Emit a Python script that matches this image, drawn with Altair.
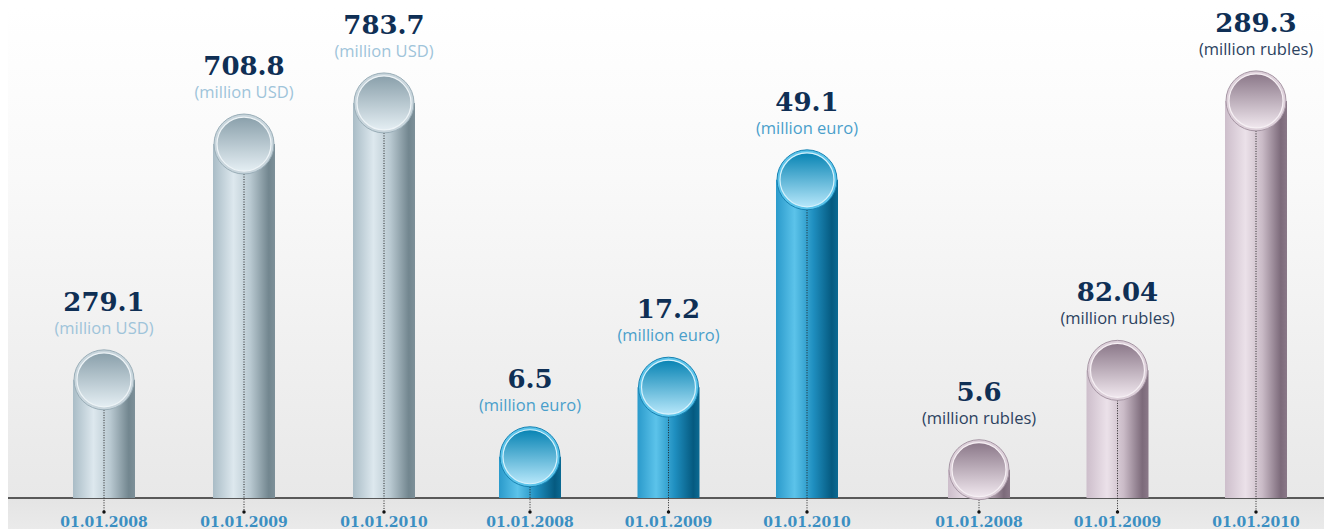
import altair as alt
import pandas as pd

# ---- data ----
dates = ["01.01.2008", "01.01.2009", "01.01.2010"]
usd_values = [279.1, 708.8, 783.7]
euro_values = [6.5, 17.2, 49.1]
rub_values = [5.6, 82.04, 289.3]
unit_labels = ["(million USD)", "(million euro)", "(million rubles)"]

W, H = 1316, 530
BASE = 490


def hgrad(stops):
    return alt.Gradient(gradient="linear", x1=0, x2=1, y1=0, y2=0,
                        stops=[alt.GradientStop(offset=o, color=c) for o, c in stops])


def vgrad(stops):
    return alt.Gradient(gradient="linear", x1=0, x2=0, y1=0, y2=1,
                        stops=[alt.GradientStop(offset=o, color=c) for o, c in stops])


styles = [
    dict(body=[(0, "#a9bcc6"), (0.33, "#dde8ee"), (0.6, "#b9c9d1"), (0.9, "#72868f"), (1, "#7d9099")],
         ring="#c8d5dc", ring_stroke="#9aaeb8",
         inner=[(0, "#8aa0ab"), (1, "#e4eef3")], inner_stroke="#eef4f7",
         unit_color="#9fc4da"),
    dict(body=[(0, "#2a9acb"), (0.3, "#5cc3ea"), (0.6, "#1f8fc0"), (0.9, "#055a80"), (1, "#0b6a93")],
         ring="#5cc4ea", ring_stroke="#1783b3",
         inner=[(0, "#0884b4"), (1, "#b6e7fa")], inner_stroke="#d7f2fc",
         unit_color="#4a9fcb"),
    dict(body=[(0, "#cdbecb"), (0.33, "#ebe1e9"), (0.6, "#cabbc7"), (0.9, "#7c6a7a"), (1, "#8a7888")],
         ring="#ddd0da", ring_stroke="#a696a4",
         inner=[(0, "#8b7889"), (1, "#f0e7ee")], inner_stroke="#f6f0f4",
         unit_color="#2c4260"),
]


def group_chart(i, values, x_range, y_domain, y_range):
    st = styles[i]
    df = pd.DataFrame({
        "date": dates,
        "value": values,
        "label": [str(v) for v in values],
        "unit": [unit_labels[i]] * len(values),
    })
    x = alt.X("date:N", axis=None, sort=dates,
              scale=alt.Scale(type="point", range=x_range, padding=0))
    y = alt.Y("value:Q", axis=None, stack=None,
              scale=alt.Scale(domain=y_domain, range=y_range, nice=False))
    base = alt.Chart(df).encode(x=x)
    body = base.mark_bar(size=62, color=hgrad(st["body"])).encode(y=y, y2=alt.value(BASE))
    dots = base.mark_rule(color="#222222", strokeWidth=1, strokeDash=[1, 1.5]).encode(
        y=y, y2=alt.value(504))
    end_dot = base.mark_circle(size=12, color="#111111", opacity=1).encode(y=alt.value(504))
    ring = base.mark_circle(size=3600, color=st["ring"], stroke=st["ring_stroke"],
                            strokeWidth=1, opacity=1).encode(y=y)
    inner = base.mark_circle(size=2916, color=vgrad(st["inner"]), stroke=st["inner_stroke"],
                             strokeWidth=1.2, opacity=1).encode(y=y)
    num = base.mark_text(font="DejaVu Serif", fontWeight="bold", fontSize=26,
                         color="#0f2f55", dy=-69, baseline="alphabetic").encode(
        y=y, text="label:N")
    unit = base.mark_text(font="Open Sans", fontSize=16.5, color=st["unit_color"],
                          dy=-46, baseline="alphabetic").encode(y=y, text="unit:N")
    date_lbl = base.mark_text(font="DejaVu Serif", fontWeight="bold", fontSize=14,
                              color="#3b8fc2", baseline="alphabetic").encode(
        y=alt.value(519), text="date:N")
    return alt.layer(body, dots, end_dot, ring, inner, num, unit, date_lbl)


one = pd.DataFrame({"k": [0]})
bg_top = alt.Chart(one).mark_rect(
    color=vgrad([(0, "#ffffff"), (0.35, "#f9f9f9"), (1, "#e8e8e8")])
).encode(x=alt.value(0), x2=alt.value(W), y=alt.value(0), y2=alt.value(BASE))
bg_bottom = alt.Chart(one).mark_rect(
    color=vgrad([(0, "#e4e4e4"), (1, "#ececec")])
).encode(x=alt.value(0), x2=alt.value(W), y=alt.value(BASE), y2=alt.value(H))
baseline = alt.Chart(one).mark_rule(color="#2a2a2a", strokeWidth=1.5).encode(
    x=alt.value(0), x2=alt.value(W), y=alt.value(BASE))

g_usd = group_chart(0, usd_values, [96, 376], [0, 800], [525, 86])
g_eur = group_chart(1, euro_values, [522, 799], [0, 50], [491, 166])
g_rub = group_chart(2, rub_values, [971, 1248], [0, 300], [469, 79])

chart = alt.layer(bg_top, bg_bottom, baseline, g_usd, g_eur, g_rub).resolve_scale(
    x="independent", y="independent"
).properties(
    width=W, height=H, padding=0, autosize="none"
).configure_view(stroke=None)

chart.save("out.html", embed_options={"renderer": "svg", "actions": False})
